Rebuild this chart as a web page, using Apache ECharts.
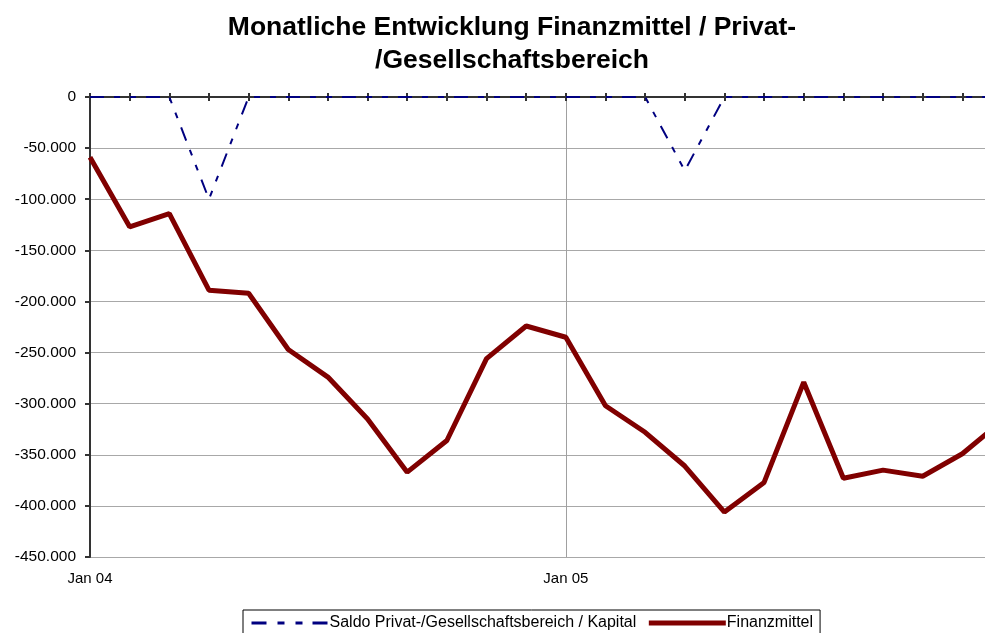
<!DOCTYPE html>
<html>
<head>
<meta charset="utf-8">
<script src="https://cdn.jsdelivr.net/npm/echarts@6/dist/echarts.min.js"></script>
<style>
    html, body {margin: 0; padding: 0; background: #fff;}
    #chart {width: 985px; height: 633px;}
</style>
</head>
<body>
<div id="chart"></div>
<script>
// Monate Jan 04 .. Dez 05
const months = [
    'Jan 04', 'Feb 04', 'Mrz 04', 'Apr 04', 'Mai 04', 'Jun 04',
    'Jul 04', 'Aug 04', 'Sep 04', 'Okt 04', 'Nov 04', 'Dez 04',
    'Jan 05', 'Feb 05', 'Mrz 05', 'Apr 05', 'Mai 05', 'Jun 05',
    'Jul 05', 'Aug 05', 'Sep 05', 'Okt 05', 'Nov 05', 'Dez 05'
]
const saldo = [
    0, 0, 0, -100000, 0, 0, 0, 0, 0, 0, 0, 0,
    0, 0, 0, -72000, 0, 0, 0, 0, 0, 0, 0, 0
]
const finanzmittel = [
    -59000, -127000, -114000, -189000, -192000, -247000,
    -274000, -315000, -367000, -336000, -256000, -224000,
    -235000, -302000, -328000, -361000, -406000, -377000,
    -279000, -373000, -365000, -371000, -349000, -317000
]
const seriesNames = ['Saldo Privat-/Gesellschaftsbereich / Kapital', 'Finanzmittel']

const FONT = '"Liberation Sans", Arial, sans-serif'
const DASH = [14, 10, 6, 10, 6, 10]

function formatNumber(v) {
    if (v === 0) {
        return '0'
    }
    const sign = v < 0 ? '-' : ''
    const s = String(Math.abs(v))
    return sign + s.replace(/\B(?=(\d{3})+(?!\d))/g, '.')
}

const myChart = echarts.init(document.getElementById('chart'))

const option = {
    animation: false,
    title: {
        text: 'Monatliche Entwicklung Finanzmittel / Privat-\n/Gesellschaftsbereich',
        left: 507,
        textAlign: 'center',
        top: 6,
        textStyle: {
            fontFamily: FONT,
            fontSize: 26.5,
            fontWeight: 'bold',
            lineHeight: 33,
            color: '#000'
        }
    },
    legend: {
        left: 243,
        top: 610,
        padding: [5, 7, 4, 7],
        borderColor: '#000',
        borderWidth: 1,
        itemWidth: 77,
        itemHeight: 14,
        itemGap: 10,
        itemStyle: {opacity: 0},
        data: [
            {name: seriesNames[0], lineStyle: {width: 3, type: [15, 11, 7, 11, 7, 10]}},
            {name: seriesNames[1], lineStyle: {width: 5}}
        ],
        textStyle: {
            fontFamily: FONT,
            fontSize: 16,
            color: '#000',
            padding: [0, 0, 0, -4]
        }
    },
    grid: {
        left: 90,
        top: 97,
        width: 912,
        bottom: 76,
        outerBoundsMode: 'none'
    },
    xAxis: [
        {
            // Beschriftung unten
            type: 'category',
            data: months,
            boundaryGap: false,
            position: 'bottom',
            axisLine: {show: false},
            axisTick: {show: false},
            axisLabel: {
                interval: 11,
                margin: 14,
                fontFamily: FONT,
                fontSize: 15,
                color: '#000'
            },
            splitLine: {
                show: true,
                interval: 11,
                lineStyle: {color: '#a0a0a0', width: 1}
            }
        },
        {
            // Achse bei 0 (oben), Striche nach außen
            type: 'category',
            data: months,
            boundaryGap: false,
            position: 'top',
            axisLine: {show: true, onZero: false, lineStyle: {color: '#333', width: 2}},
            axisTick: {show: true, interval: 0, length: 4, lineStyle: {color: '#333', width: 2}},
            axisLabel: {show: false},
            splitLine: {show: false}
        },
        {
            // Striche nach innen
            type: 'category',
            data: months,
            boundaryGap: false,
            position: 'top',
            axisLine: {show: false, onZero: false},
            axisTick: {show: true, inside: true, interval: 0, length: 4, lineStyle: {color: '#333', width: 2}},
            axisLabel: {show: false},
            splitLine: {show: false}
        }
    ],
    yAxis: {
        type: 'value',
        min: -450000,
        max: 0,
        interval: 50000,
        axisLine: {show: true, lineStyle: {color: '#333', width: 2}},
        axisTick: {show: true, length: 5, lineStyle: {color: '#333', width: 2}},
        axisLabel: {
            margin: 14,
            fontFamily: FONT,
            fontSize: 15.5,
            color: '#000',
            formatter: formatNumber
        },
        splitLine: {
            show: true,
            lineStyle: {color: '#a8a8a8', width: 1}
        }
    },
    series: [
        {
            name: seriesNames[0],
            type: 'line',
            data: saldo,
            symbol: 'none',
            itemStyle: {color: '#000080'},
            lineStyle: {
                color: '#000080',
                width: 2,
                type: DASH
            }
        },
        {
            name: seriesNames[1],
            type: 'line',
            data: finanzmittel,
            symbol: 'none',
            itemStyle: {color: '#800000'},
            lineStyle: {
                color: '#800000',
                width: 5
            }
        }
    ]
}

myChart.setOption(option)
</script>
</body>
</html>
